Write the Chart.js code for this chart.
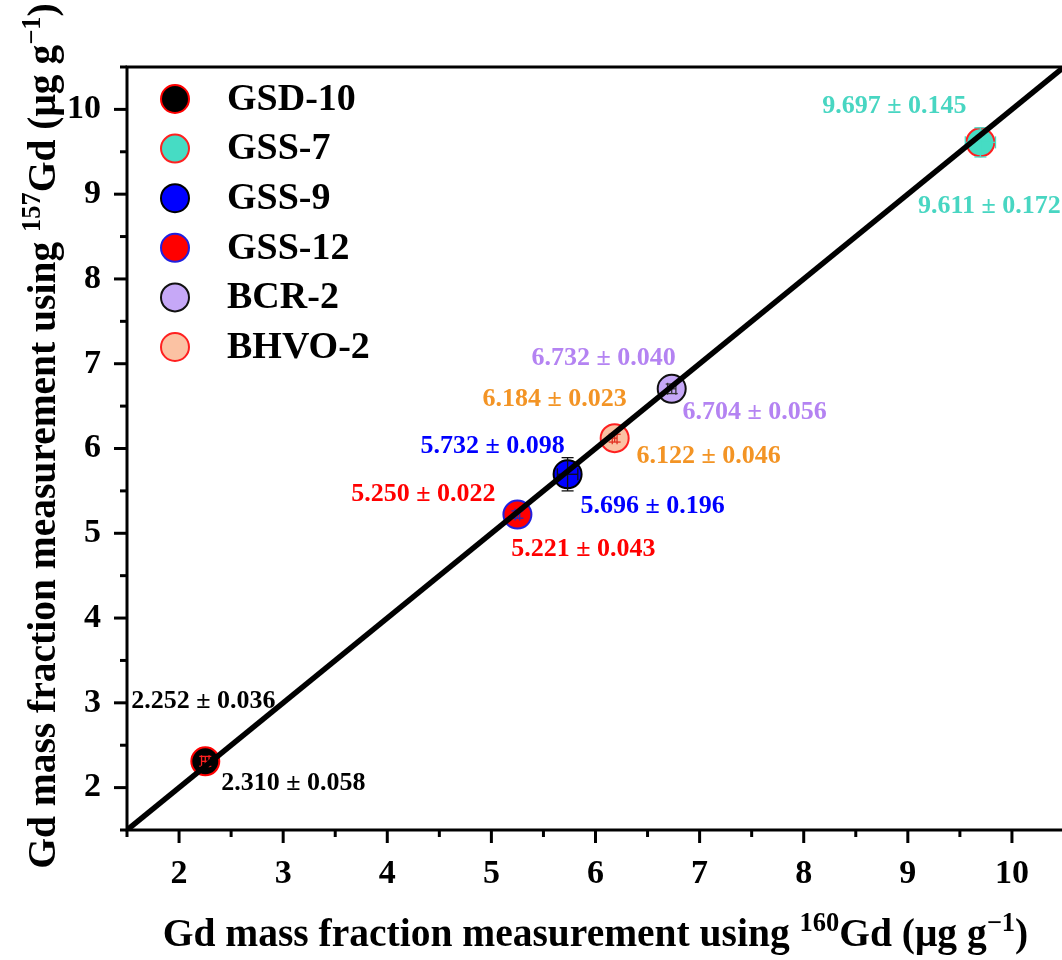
<!DOCTYPE html>
<html>
<head>
<meta charset="utf-8">
<script src="https://cdn.jsdelivr.net/npm/chart.js@4/dist/chart.umd.min.js"></script>
<style>
html,body{margin:0;padding:0;overflow:hidden;background:#fff;width:1062px;height:960px}
#wrap{position:absolute;left:0;top:0;width:1080px;height:960px}
</style>
</head>
<body>
<div id="wrap"><canvas id="c" width="1080" height="960"></canvas></div>
<script>
// ---------- data ----------
const samples  = ['GSD-10', 'GSS-7', 'GSS-9', 'GSS-12', 'BCR-2', 'BHVO-2'];
const gd160    = [2.252, 9.697, 5.732, 5.250, 6.732, 6.184];   // x (160Gd)
const gd160Err = [0.036, 0.145, 0.098, 0.022, 0.040, 0.023];
const gd157    = [2.310, 9.611, 5.696, 5.221, 6.704, 6.122];   // y (157Gd)
const gd157Err = [0.058, 0.172, 0.196, 0.043, 0.056, 0.046];
const xTicks   = [2, 3, 4, 5, 6, 7, 8, 9, 10];
const yTicks   = [2, 3, 4, 5, 6, 7, 8, 9, 10];
const minorTicks = [1.5, 2.5, 3.5, 4.5, 5.5, 6.5, 7.5, 8.5, 9.5, 10.5];
const axisMin = 1.5, axisMax = 10.5;
const oneToOne = [1.5, 10.5];

// ---------- styles ----------
const FONT = '"Liberation Serif", "Times New Roman", Times, serif';
const fillColors   = ['#000000', '#46DCC4', '#0000FF', '#FF0000', '#C6A8F7', '#FBC2A3'];
const edgeColors   = ['#FF0000', '#FF2020', '#000000', '#2020E0', '#111111', '#FF2020'];
const textColors   = ['#000000', '#48D6C2', '#0000FF', '#FF0000', '#B483F2', '#F39425'];
const errColors    = ['#FF2020', '#46DCC4', '#111111', '#2030C0', '#333333', '#E03020'];
// label offsets from the marker centre (px): [upper dx, upper dy, lower dx, lower dy]
const labelOffsets = [
  [-2, -60, 88, 22],
  [-86, -36, 9, 64],
  [-75, -28, 85, 32],
  [-94, -20, 66, 35],
  [-68, -31, 83, 23],
  [-60, -39, 94, 18]
];

const xTitleParts = [
  {t: 'Gd mass fraction measurement using '}, {t: '160', sup: true},
  {t: 'Gd (\u03bcg g'}, {t: '\u22121', sup: true}, {t: ')'}
];
const yTitleParts = [
  {t: 'Gd mass fraction measurement using '}, {t: '157', sup: true},
  {t: 'Gd (\u03bcg g'}, {t: '\u22121', sup: true}, {t: ')'}
];

function partsWidth(ctx, parts, size, supSize) {
  let w = 0;
  for (const p of parts) {
    ctx.font = `bold ${p.sup ? supSize : size}px ${FONT}`;
    w += ctx.measureText(p.t).width;
  }
  return w;
}
function drawParts(ctx, parts, x, y, size, supSize, rise) {
  let cx = x;
  ctx.textAlign = 'left';
  ctx.textBaseline = 'alphabetic';
  for (const p of parts) {
    ctx.font = `bold ${p.sup ? supSize : size}px ${FONT}`;
    ctx.fillText(p.t, cx, p.sup ? y - rise : y);
    cx += ctx.measureText(p.t).width;
  }
}
function seg(ctx, x1, y1, x2, y2) {
  ctx.beginPath(); ctx.moveTo(x1, y1); ctx.lineTo(x2, y2); ctx.stroke();
}

const decor = {
  id: 'decor',
  afterDatasetDraw(chart, args) {
    const i = args.index;
    if (i >= samples.length) return;
    const ctx = chart.ctx, xs = chart.scales.x, ys = chart.scales.y;
    const px = xs.getPixelForValue(gd160[i]), py = ys.getPixelForValue(gd157[i]);
    const x1 = xs.getPixelForValue(gd160[i] - gd160Err[i]), x2 = xs.getPixelForValue(gd160[i] + gd160Err[i]);
    const y1 = ys.getPixelForValue(gd157[i] - gd157Err[i]), y2 = ys.getPixelForValue(gd157[i] + gd157Err[i]);
    ctx.save();
    ctx.strokeStyle = errColors[i];
    ctx.lineWidth = 1.3;
    const cap = 6;
    seg(ctx, x1, py, x2, py); seg(ctx, x1, py - cap, x1, py + cap); seg(ctx, x2, py - cap, x2, py + cap);
    seg(ctx, px, y1, px, y2); seg(ctx, px - cap, y1, px + cap, y1); seg(ctx, px - cap, y2, px + cap, y2);
    ctx.restore();
  },
  afterDraw(chart) {
    const ctx = chart.ctx, xs = chart.scales.x, ys = chart.scales.y, ca = chart.chartArea;
    ctx.save();
    // frame
    ctx.strokeStyle = '#000';
    ctx.lineWidth = 3;
    ctx.lineCap = 'square';
    ctx.strokeRect(ca.left, ca.top, ca.right - ca.left, ca.bottom - ca.top);
    ctx.lineCap = 'butt';
    // ticks
    xTicks.forEach(v => { const p = xs.getPixelForValue(v); seg(ctx, p, ca.bottom, p, ca.bottom + 13); });
    minorTicks.forEach(v => { const p = xs.getPixelForValue(v); seg(ctx, p, ca.bottom, p, ca.bottom + 7); });
    yTicks.forEach(v => { const p = ys.getPixelForValue(v); seg(ctx, ca.left, p, ca.left - 13, p); });
    minorTicks.forEach(v => { const p = ys.getPixelForValue(v); seg(ctx, ca.left, p, ca.left - 7, p); });

    // value labels
    ctx.font = `bold 26px ${FONT}`;
    ctx.textAlign = 'center';
    ctx.textBaseline = 'middle';
    samples.forEach((s, i) => {
      const el = chart.getDatasetMeta(i).data[0];
      const o = labelOffsets[i];
      ctx.fillStyle = textColors[i];
      ctx.fillText(`${gd160[i].toFixed(3)} \u00b1 ${gd160Err[i].toFixed(3)}`, el.x + o[0], el.y + o[1]);
      ctx.fillText(`${gd157[i].toFixed(3)} \u00b1 ${gd157Err[i].toFixed(3)}`, el.x + o[2], el.y + o[3]);
    });

    // legend
    const lx = ca.left + 48, ly = ca.top + 32, step = 49.6;
    samples.forEach((s, i) => {
      const cy = ly + i * step;
      ctx.beginPath();
      ctx.arc(lx, cy, 14, 0, Math.PI * 2);
      ctx.fillStyle = fillColors[i];
      ctx.fill();
      ctx.lineWidth = 2;
      ctx.strokeStyle = edgeColors[i];
      ctx.stroke();
      ctx.fillStyle = '#000';
      ctx.font = `bold 38px ${FONT}`;
      ctx.textAlign = 'left';
      ctx.textBaseline = 'middle';
      ctx.fillText(s, ca.left + 100, cy + 1);
    });

    // axis titles
    ctx.fillStyle = '#000';
    const tSize = 39.5, sSize = 26.5, rise = 15;
    const wx = partsWidth(ctx, xTitleParts, tSize, sSize);
    drawParts(ctx, xTitleParts, (ca.left + ca.right) / 2 - wx / 2, 946, tSize, sSize, rise);
    const wy = partsWidth(ctx, yTitleParts, tSize, sSize);
    ctx.translate(55, 436);
    ctx.rotate(-Math.PI / 2);
    drawParts(ctx, yTitleParts, -wy / 2, 0, tSize, sSize, rise);
    ctx.restore();
  }
};

const datasets = samples.map((s, i) => ({
  type: 'scatter',
  label: s,
  data: [{x: gd160[i], y: gd157[i]}],
  backgroundColor: fillColors[i],
  borderColor: edgeColors[i],
  pointRadius: 14,
  pointHoverRadius: 14,
  pointBorderWidth: 2,
  order: 1,
  clip: false
}));
datasets.push({
  type: 'line',
  label: '1:1',
  data: oneToOne.map(v => ({x: v, y: v})),
  borderColor: '#000',
  borderWidth: 5.5,
  pointRadius: 0,
  fill: false,
  order: -1
});

Chart.defaults.font.family = FONT;
Chart.defaults.color = '#000';

new Chart(document.getElementById('c'), {
  type: 'scatter',
  data: {datasets},
  options: {
    responsive: false,
    animation: false,
    devicePixelRatio: 1,
    layout: {padding: {top: 67, right: 10, left: 0, bottom: 0}},
    plugins: {legend: {display: false}, tooltip: {enabled: false}},
    scales: {
      x: {
        type: 'linear', min: axisMin, max: axisMax,
        afterBuildTicks: s => { s.ticks = xTicks.map(v => ({value: v})); },
        afterFit: s => { s.height = 130; },
        grid: {display: false, drawTicks: false},
        border: {display: false},
        ticks: {font: {size: 34, weight: 'bold'}, padding: 24, maxRotation: 0, autoSkip: false,
                callback: v => String(v)}
      },
      y: {
        type: 'linear', min: axisMin, max: axisMax,
        afterBuildTicks: s => { s.ticks = yTicks.map(v => ({value: v})); },
        afterFit: s => { s.width = 127; },
        grid: {display: false, drawTicks: false},
        border: {display: false},
        ticks: {font: {size: 34, weight: 'bold'}, padding: 26, autoSkip: false,
                callback: v => String(v)}
      }
    }
  },
  plugins: [decor]
});
</script>
</body>
</html>
